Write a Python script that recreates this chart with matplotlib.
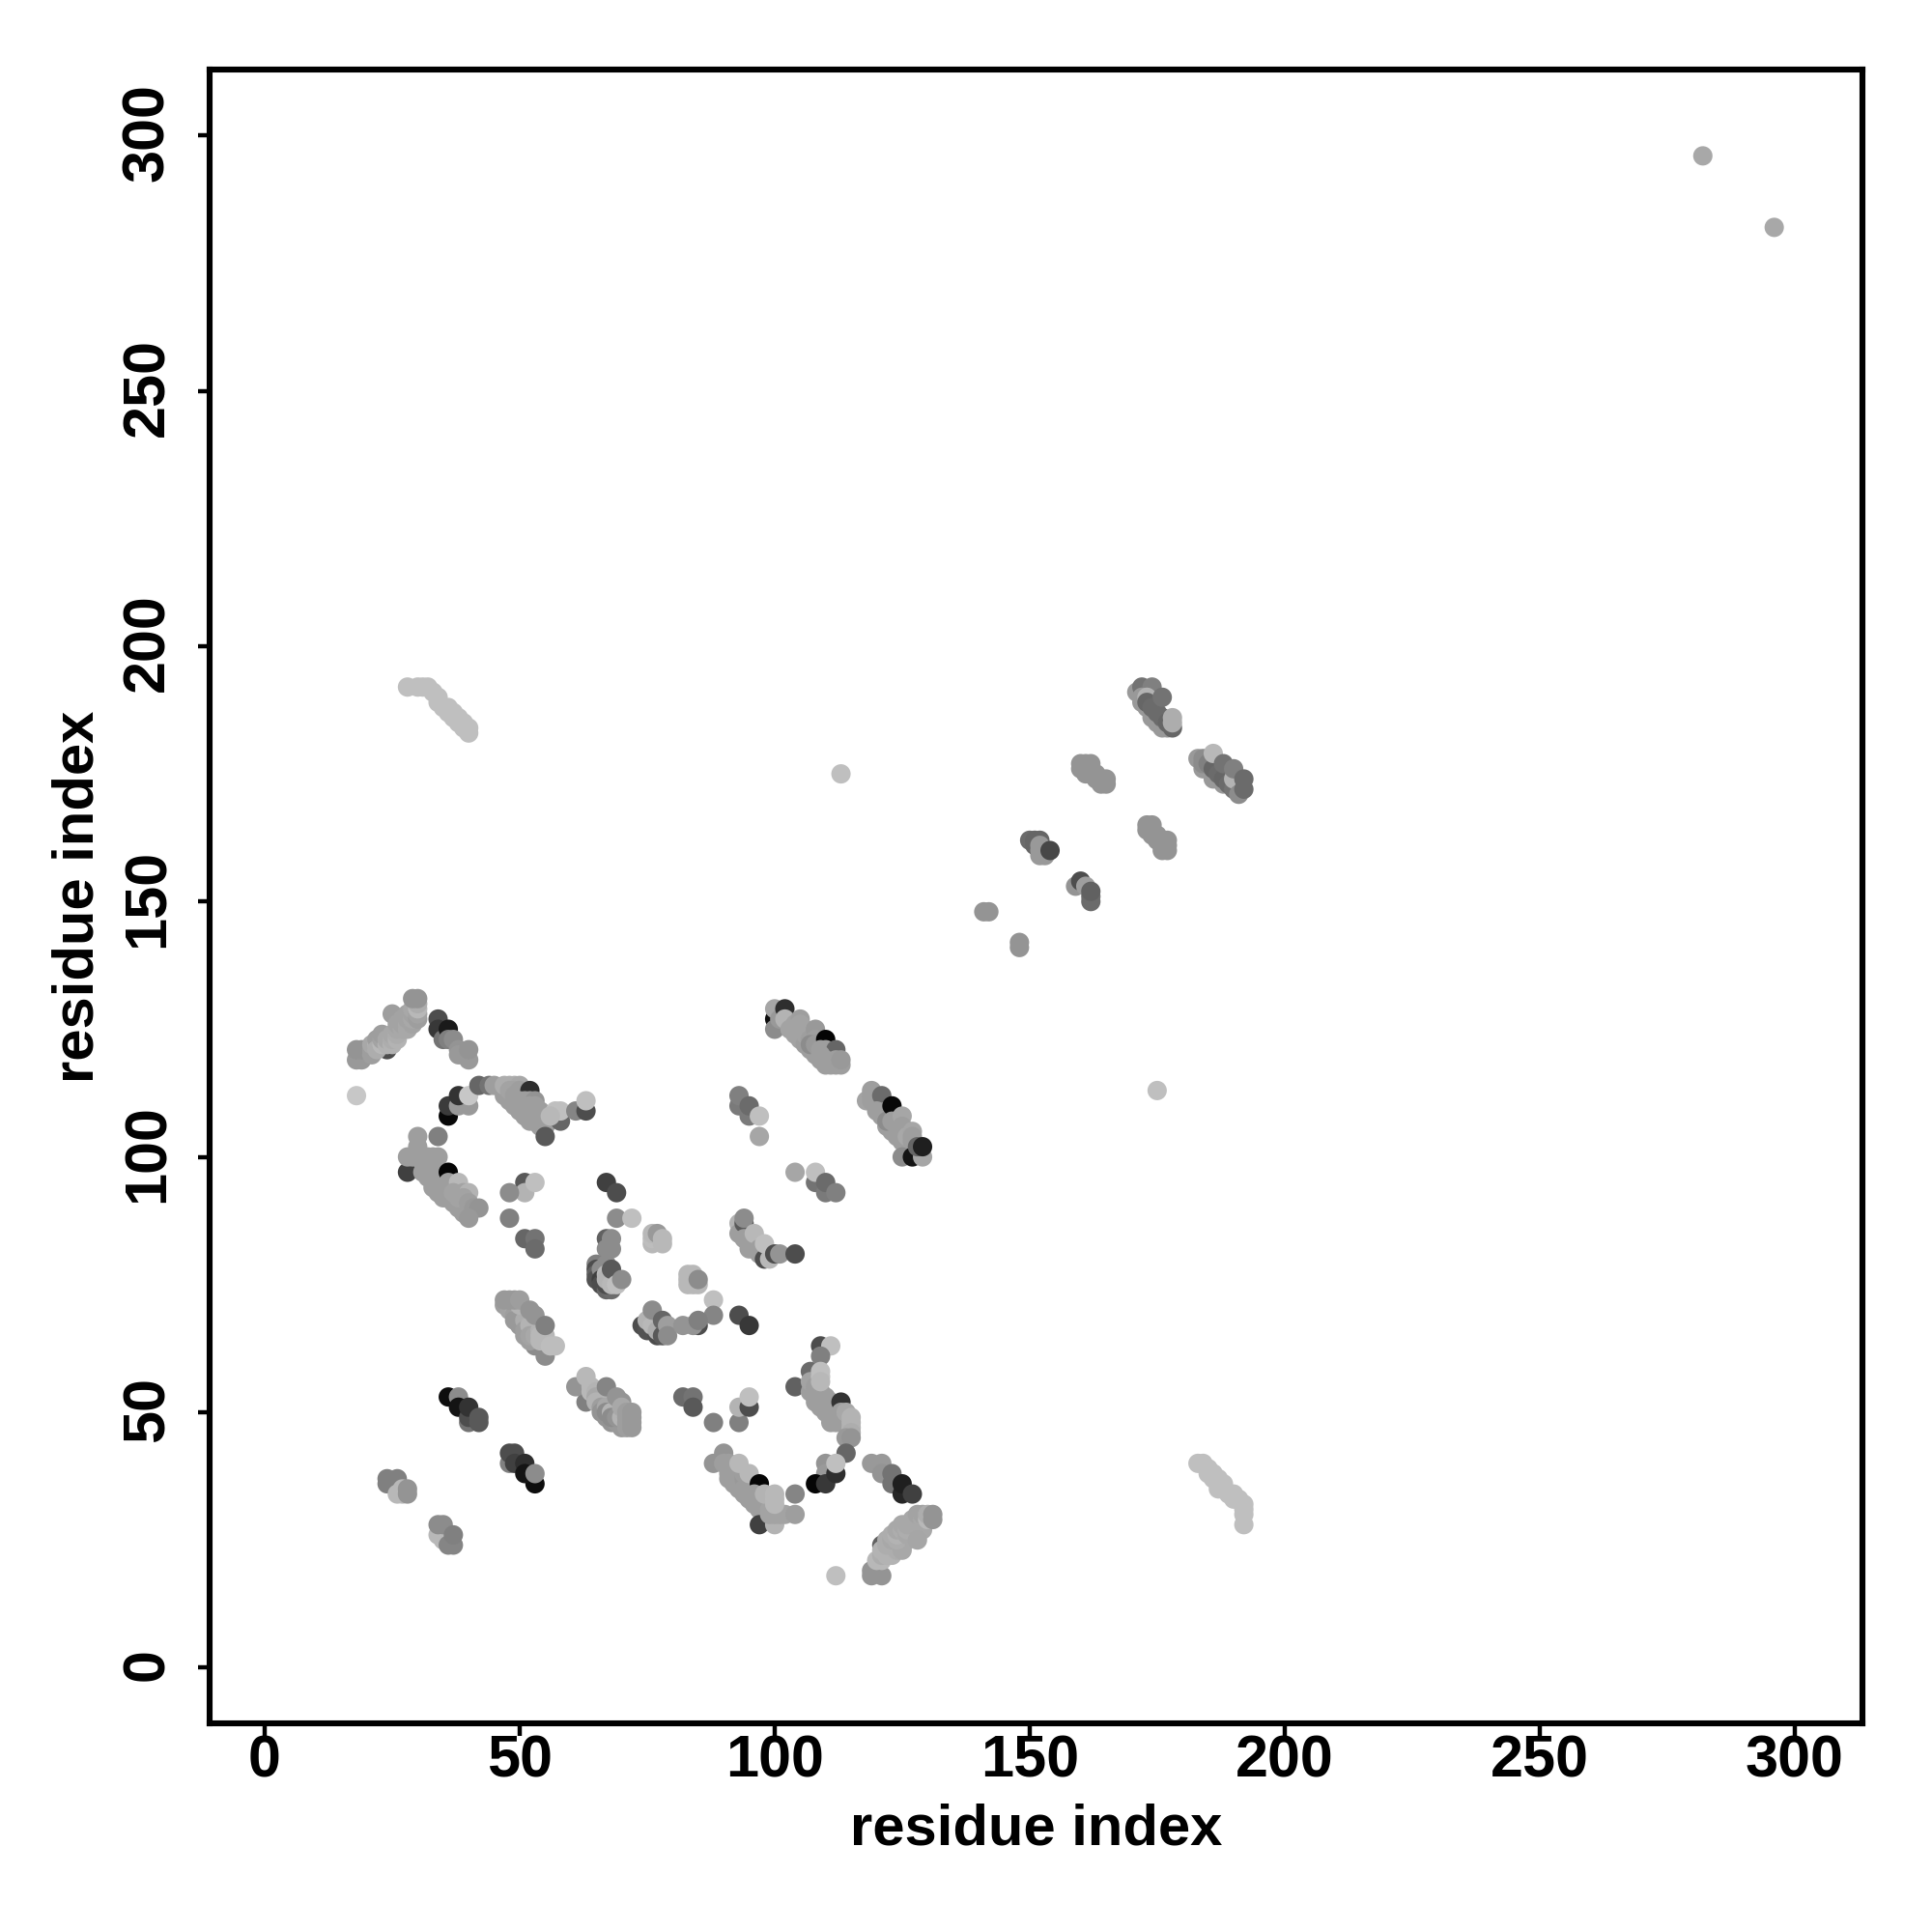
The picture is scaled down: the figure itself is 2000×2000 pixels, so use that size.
import matplotlib
matplotlib.use("Agg")
import matplotlib.pyplot as plt
from matplotlib.transforms import ScaledTranslation

plt.rcParams['font.family'] = ['Liberation Sans', 'DejaVu Sans']
plt.rcParams['font.weight'] = 'bold'

# grey level of each contact goes with it: (i, j, grey)
band_top_left = [(18,119,.6),(19,119,.6),(18,121,.58),(19,121,.58),(24,121,.3),(25,128,.62),
    (21,120,.62),(21,121,.62),(21,122,.66),(22,122,.7),(22,123,.62),(22,121,.68),(23,122,.72),(23,123,.64),(23,124,.62),(24,122,.7),(24,123,.66),
    (25,122,.7),(25,123,.68),(25,124,.66),(26,123,.7),(26,124,.68),(26,125,.66),(26,126,.64),(27,125,.66),(27,126,.64),(27,127,.64),
    (28,125,.66),(28,126,.66),(28,127,.64),(28,128,.64),(29,126,.64),(29,127,.66),(29,128,.64),(29,129,.66),(30,127,.62),(30,128,.64),(30,129,.72),(30,130,.68),
    (29,131,.58),(30,131,.58)]
strand_dark = [(34,127,.3),(34,125,.22),(35,123,.45),(36,125,.1),(36,123,.5),(37,123,.55),(38,121,.58),(38,120,.6),(40,119,.6),(40,121,.58)]
lone_points = [(18,112,.78),(113,175,.75),(175,113,.75),(282,296,.66),(296,282,.66),(112,18,.75)]
hook_upper = [(36,108,.03),(36,110,.23),(38,110,.6),(40,110,.6),(38,112,.2),(40,112,.78),(42,114,.4),(44,114,.45),
    (47,112,.62),(48,111,.62),(49,110,.62),(50,109,.62),(51,108,.62),(52,107,.62),(53,107,.62),(54,106,.62),(55,106,.62),
    (45,114,.62),(47,114,.68),(48,114,.68),(49,114,.68),(50,114,.66),(48,113,.64),(49,113,.64),(50,113,.62),
    (49,112,.62),(50,112,.62),(51,112,.62),(52,113,.18),(50,111,.62),(51,111,.62),(52,111,.62),(53,111,.58),
    (52,110,.62),(53,110,.62),(53,109,.62),(54,109,.62),(54,108,.62),(55,107,.62),(55,108,.62),(55,104,.35),
    (58,107,.4),(57,109,.75),(58,109,.75),(56,108,.72),(61,109,.52),(63,109,.3),(63,111,.75)]
hook_lower = [(30,104,.62),(34,104,.5),(28,97,.25),(28,100,.62),(30,102,.62),(30,101,.62),(30,100,.62),(29,100,.62),
    (31,97,.62),(32,96,.62),(33,94,.62),(34,93,.62),(35,92,.62),(36,92,.62),(37,91,.62),(38,90,.62),(39,89,.62),
    (31,99,.62),(32,100,.62),(33,100,.62),(34,100,.62),(32,98,.62),(33,98,.62),(33,97,.62),(34,96,.62),(34,95,.62),
    (36,97,.02),(35,94,.62),(36,95,.62),(37,94,.62),(38,95,.72),(37,93,.64),(38,92,.64),(39,93,.64),(40,93,.7),
    (39,92,.64),(40,91,.62),(41,90,.6),(42,90,.58),(40,88,.6)]
block_48_95 = [(51,95,.35),(51,93,.7),(53,95,.75),(48,93,.55),(48,88,.5),(51,84,.4),(53,84,.45),(53,82,.42),
    (67,95,.25),(69,93,.3),(69,88,.55),(72,88,.75),(76,83,.72),(76,84,.74),(76,85,.72),(77,85,.6),(78,84,.72),(78,83,.72)]
block_65_79 = [(67,84,.38),(68,84,.55),(67,82,.55),(68,82,.55),(65,79,.5),(65,78,.3),(65,77,.38),(65,76,.32),(66,78,.55),(66,76,.25),
    (66,75,.3),(67,79,.55),(67,74,.4),(68,74,.42),(67,75,.3),(67,77,.72),(67,76,.7),(68,75,.72),(68,78,.35),(69,75,.75),(70,76,.55)]
block_83_77 = [(83,76,.72),(83,75,.72),(84,75,.72),(85,75,.72),(83,77,.72),(84,77,.72),(85,76,.55)]
block_74_85 = [(88,72,.75),(88,69,.52),(93,69,.3),(95,67,.22),(74,67,.3),(75,66,.32),(75,68,.7),(76,67,.72),(76,70,.55),
    (77,65,.3),(77,66,.68),(78,65,.35),(78,68,.4),(79,67,.62),(79,65,.55),(82,67,.58),(85,67,.3),(84,67,.58),(85,68,.5)]
block_47_72 = [(53,63,.55),(55,61,.55),(47,71,.62),(48,71,.62),(48,70,.64),(49,70,.66),(49,69,.62),(50,69,.68),
    (49,68,.6),(50,67,.6),(52,64,.62),(51,65,.62),
    (51,68,.68),(51,66,.62),(50,71,.7),(52,67,.7),(53,67,.7),(53,66,.7),(52,65,.64),(53,65,.66),(54,66,.7),(54,65,.72),(55,65,.72),
    (54,64,.72),(55,64,.72),(56,63,.74),(57,63,.74),(47,72,.6),(48,72,.6),(49,72,.6),(50,72,.62),(52,70,.58),(53,69,.58),(55,67,.5)]
block_61_72 = [(63,52,.5),(61,55,.58),(63,57,.72),(64,55,.72),(64,54,.72),(65,54,.7),(65,53,.66),(65,52,.7),(66,52,.7),(66,51,.62),
    (66,50,.58),(67,49,.58),(68,48,.58),(69,48,.6),(70,47,.6),
    (67,51,.66),(67,50,.55),(68,50,.7),(68,49,.55),(69,49,.58),(70,49,.7),(67,55,.52),(69,53,.58),(70,52,.58),(70,51,.66),
    (71,50,.62),(71,49,.62),(71,48,.62),(71,47,.62),(72,50,.6),(72,49,.6),(72,48,.6),(72,47,.6)]
block_82_95 = [(82,53,.42),(84,53,.45),(84,51,.35),(88,48,.5),(93,48,.5),(93,51,.7),(95,51,.3),(95,53,.75)]
cluster_36_42 = [(36,53,.05),(38,53,.55),(38,51,.08),(40,48,.45),(40,49,.3),(40,51,.2),(42,48,.35),(42,49,.35)]
cluster_48_53 = [(48,40,.5),(48,42,.3),(49,42,.3),(49,40,.25),(51,40,.18),(53,36,.05),(51,38,.08),(53,38,.55)]
cluster_24_28 = [(24,36,.5),(24,37,.5),(26,37,.5),(26,34,.72),(27,34,.72),(27,35,.72),(28,34,.58),(28,35,.58)]
cluster_34_37 = [(34,26,.72),(35,26,.72),(35,25,.72),(34,28,.55),(35,28,.55),(36,24,.52),(37,24,.52),(37,26,.5)]
band_88_104 = [(88,40,.58),(90,42,.58),(90,40,.62),(91,40,.62),(91,38,.62),(91,37,.62),(92,36,.62),(93,35,.62),(94,34,.62),(95,33,.62),(96,32,.62),(97,31,.62),(98,30,.62),
    (92,39,.62),(92,38,.62),(92,37,.62),(93,37,.62),(93,36,.62),(94,37,.6),(94,38,.62),(96,36,.62),(97,35,.62),(98,33,.62),
    (94,35,.62),(95,35,.62),(95,34,.62),(93,40,.72),(95,38,.72),(97,36,.02),(96,33,.62),(96,34,.62),(97,33,.62),(97,32,.62),
    (97,28,.25),(100,28,.7),(99,32,.62),(99,31,.64),(99,30,.64),(100,30,.64),(101,30,.64),(102,30,.64),(104,30,.62),(98,34,.7),
    (100,34,.72),(100,33,.72),(100,32,.72),(104,34,.52)]
band_104_115 = [(104,55,.38),(107,58,.42),(109,63,.3),(111,63,.75),(109,61,.5),(107,54,.62),(107,56,.64),(108,55,.62),(108,54,.62),
    (108,52,.62),(109,51,.62),(109,52,.62),(110,51,.62),(111,49,.62),(112,48,.62),(112,49,.62),
    (109,54,.62),(109,53,.62),(110,53,.62),(110,52,.62),(110,50,.62),(111,52,.62),(111,51,.62),(111,50,.62),(112,51,.62),(112,50,.62),(113,52,.2),
    (113,50,.62),(113,49,.62),(111,48,.62),(114,50,.66),(115,49,.7),(115,48,.7),(115,47,.7),(115,46,.68),(114,45,.6),(115,45,.58),
    (114,42,.4),(109,58,.75),(109,57,.75),(109,56,.72)]
cluster_108_112 = [(110,40,.58),(110,38,.6),(108,36,.02),(110,36,.22),(112,38,.18),(112,40,.75)]
cluster_119_127 = [(119,40,.6),(121,40,.6),(121,38,.58),(123,36,.45),(123,38,.45),(125,34,.15),(125,36,.12),(127,34,.25)]
band_119_131 = [(119,18,.58),(119,19,.58),(121,18,.58),(121,24,.38),(120,21,.72),(121,21,.72),(121,22,.68),(122,22,.7),(121,23,.7),(123,22,.7),(124,23,.68),(122,24,.68),
    (125,23,.66),(125,24,.66),(126,25,.66),(127,26,.66),(128,27,.66),(129,27,.66),
    (122,25,.68),(123,25,.66),(123,26,.68),(124,25,.68),(124,26,.7),(124,27,.66),(125,27,.68),(125,28,.66),(126,26,.66),(126,27,.68),(126,28,.66),
    (127,28,.66),(127,29,.66),(128,25,.65),(128,29,.66),(128,30,.64),(129,29,.66),(129,30,.64),(130,29,.72),(130,30,.68),
    (131,29,.58),(131,30,.58)]
band_100_113 = [(100,127,.05),(100,125,.55),(100,129,.65),(101,127,.6),(102,129,.18),(102,127,.7),(104,126,.64),(105,127,.62),(105,125,.64),
    (103,125,.64),(104,124,.64),(105,123,.64),(106,122,.62),(107,121,.62),(108,120,.62),(109,119,.62),(110,118,.62),
    (105,126,.64),(106,125,.64),(106,124,.64),(107,124,.64),(107,123,.62),(108,125,.6),(108,123,.62),(107,122,.55),(108,122,.6),
    (110,123,.02),(109,121,.62),(110,121,.62),(112,121,.4),(109,120,.62),(110,119,.62),(111,118,.62),(112,118,.62),(112,119,.62),
    (113,118,.62),(113,119,.6)]
block_93_97 = [(93,110,.48),(93,112,.5),(95,108,.48),(95,110,.42),(97,108,.75),(97,104,.65)]
band_118_129 = [(118,111,.64),(119,113,.62),(119,112,.62),(119,111,.62),(120,111,.62),(120,110,.62),(121,110,.62),(121,112,.42),(122,109,.62),
    (120,109,.62),(121,108,.62),(122,106,.62),(123,105,.62),(124,104,.62),(125,103,.62),
    (122,108,.62),(122,107,.55),(123,110,.03),(123,107,.62),(124,107,.62),(124,106,.62),(125,108,.65),(125,106,.62),(125,105,.62),
    (126,105,.62),(126,104,.66),(127,105,.65),(127,104,.62),(127,103,.62),(125,100,.55),(127,100,.08),(129,100,.65),(128,102,.4),(129,102,.12)]
block_104_112 = [(104,97,.65),(108,95,.45),(108,97,.75),(110,93,.48),(110,95,.42),(112,93,.5)]
band_93_104 = [(93,87,.7),(93,85,.62),(94,87,.35),(94,88,.55),(94,84,.62),(95,84,.62),(95,82,.62),(96,83,.62),(96,82,.62),(96,85,.72),(97,81,.62),(97,82,.62),
    (98,81,.62),(98,80,.3),(99,80,.72),(98,83,.75),(100,81,.3),(101,81,.58),(104,81,.3)]
pairs_141_162 = [(141,148,.58),(142,148,.58),(148,141,.58),(148,142,.58),(152,159,.6),(153,159,.6),(150,162,.42),(151,162,.4),(152,162,.4),
    (151,161,.4),(152,160,.6),(152,161,.6),(154,160,.28),(159,153,.58),(160,154,.3),(161,153,.62),(162,150,.42),(162,151,.42),(162,152,.38)]
band_160_177 = [(160,176,.58),(161,175,.58),(161,176,.58),(162,175,.58),(162,176,.58),(163,174,.58),(163,175,.58),(164,173,.58),(164,174,.58),
    (165,173,.58),(165,174,.58),(160,177,.58),(161,177,.58),(162,177,.58),
    (173,164,.58),(174,163,.58),(174,164,.58),(175,162,.58),(175,163,.58),(176,160,.58),(176,161,.58),(176,162,.58),(177,160,.58),
    (177,161,.58),(177,162,.58),(173,165,.58),(174,165,.58)]
band_171_178 = [(171,191,.6),(172,192,.45),(174,192,.5),(172,189,.6),(174,186,.6),(175,185,.6),(176,184,.6),
    (172,190,.6),(173,188,.6),(175,186,.6),(176,185,.6),(173,190,.7),(173,189,.4),(174,188,.42),(175,187,.42),(176,186,.42),
    (176,190,.45),(177,184,.6),(177,185,.4),(178,184,.4),(178,185,.68),(178,186,.68)]
band_183_192 = [(183,178,.6),(184,176,.6),(186,174,.6),(188,173,.6),(184,178,.55),(184,177,.55),(185,177,.5),(186,176,.4),(186,179,.72),(187,175,.42),(188,174,.4),(188,177,.45),
    (189,173,.42),(190,172,.45),(190,174,.7),(190,176,.5),(191,171,.55),(192,172,.42),(192,174,.42)]
strand_upper_left = [(28,192,.75),(30,192,.75),(31,192,.75),(32,192,.75),(33,191,.75),(34,190,.75),(34,189,.75),(35,188,.75),(36,188,.75),
    (36,187,.75),(37,187,.75),(37,186,.75),(38,186,.75),(38,185,.75),(39,185,.75),(39,184,.75),(40,184,.75),(40,183,.75)]
strand_lower_right = [(183,40,.75),(184,40,.75),(185,39,.75),(185,38,.75),(186,38,.75),(186,37,.75),(187,37,.75),(187,35,.75),(188,36,.75),
    (188,35,.75),(189,34,.75),(190,34,.75),(190,33,.75),(191,33,.75),(192,32,.75),(192,31,.75),(192,30,.75),(192,28,.75)]

all_groups = [band_top_left, strand_dark, lone_points, hook_upper, hook_lower, block_48_95, block_65_79, block_83_77,
    block_74_85, block_47_72, block_61_72, block_82_95, cluster_36_42, cluster_48_53, cluster_24_28, cluster_34_37,
    band_88_104, band_104_115, cluster_108_112, cluster_119_127, band_119_131, band_100_113, block_93_97, band_118_129,
    block_104_112, band_93_104, pairs_141_162, band_160_177, band_171_178, band_183_192, strand_upper_left, strand_lower_right]

ticks = [0, 50, 100, 150, 200, 250, 300]

fig = plt.figure(figsize=(10, 10), dpi=200)
ax = fig.add_axes([217/2000, 1-1784/2000, (1928-217)/2000, (1784-72)/2000])

for group in all_groups:
    xs = [p[0] for p in group]
    ys = [p[1] for p in group]
    greys = [str(p[2]) for p in group]
    ax.scatter(xs, ys, s=52, c=greys, linewidths=0, zorder=3)

ax.set_xlim(-10.8, 313.3)
ax.set_ylim(-10.9, 312.9)
ax.set_xticks(ticks)
ax.set_yticks(ticks)
ax.tick_params(length=4.5, width=1.6, labelsize=22)
ax.tick_params(axis='x', pad=-0.4)
ax.tick_params(axis='y', pad=8)
# labels sit a little off the tick centres in the original
nudge_y = ScaledTranslation(0, 3.5/200, fig.dpi_scale_trans)
for label in ax.get_yticklabels():
    label.set_rotation(90)
    label.set_va('center')
    label.set_transform(label.get_transform() + nudge_y)
for spine in ax.spines.values():
    spine.set_linewidth(2.2)
ax.set_xlabel('residue index', fontsize=21.5, fontweight='bold', labelpad=5)
ax.set_ylabel('residue index', fontsize=21.5, fontweight='bold', labelpad=6)

fig.savefig('out.png', dpi=200)
